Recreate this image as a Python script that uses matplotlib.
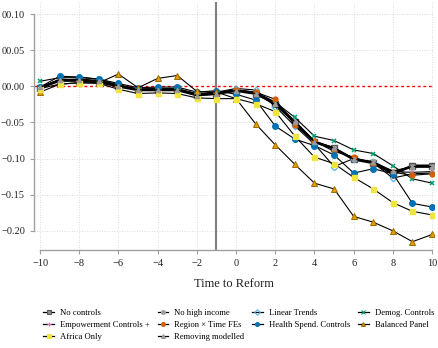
import matplotlib
matplotlib.use("Agg")
import matplotlib.pyplot as plt
from matplotlib.lines import Line2D

plt.rcParams['font.family'] = ['Liberation Serif', 'DejaVu Serif']

t = list(range(-10, 11))

no_controls  = [-0.002, 0.008, 0.008, 0.006, 0.000, -0.005, -0.005, -0.005, -0.012, -0.010, -0.006, -0.010, -0.024, -0.050, -0.077, -0.086, -0.101, -0.106, -0.121, -0.110, -0.110]
no_high_inc  = [-0.001, 0.009, 0.010, 0.008, 0.001, -0.004, -0.004, -0.004, -0.011, -0.009, -0.005, -0.009, -0.022, -0.048, -0.076, -0.085, -0.100, -0.104, -0.118, -0.112, -0.112]
linear_tr    = [-0.002, 0.010, 0.009, 0.007, 0.002, -0.004, -0.003, -0.003, -0.010, -0.008, -0.003, -0.005, -0.028, -0.055, -0.080, -0.111, -0.100, -0.106, -0.127, -0.121, -0.120]
demog        = [0.007, 0.012, 0.012, 0.010, 0.002, -0.004, -0.004, -0.004, -0.011, -0.009, -0.005, -0.008, -0.022, -0.043, -0.069, -0.075, -0.088, -0.093, -0.110, -0.128, -0.134]
empower      = [-0.002, 0.008, 0.009, 0.007, 0.001, -0.005, -0.005, -0.005, -0.012, -0.010, -0.006, -0.009, -0.026, -0.050, -0.076, -0.087, -0.100, -0.106, -0.118, -0.119, -0.118]
region_time  = [-0.002, 0.009, 0.009, 0.008, 0.001, -0.004, -0.004, -0.004, -0.011, -0.009, -0.005, -0.008, -0.018, -0.054, -0.076, -0.090, -0.098, -0.107, -0.119, -0.123, -0.121]
health_sp    = [-0.001, 0.014, 0.013, 0.010, 0.004, -0.002, -0.001, -0.001, -0.008, -0.006, -0.011, -0.019, -0.055, -0.073, -0.082, -0.095, -0.120, -0.114, -0.121, -0.162, -0.167]
balanced     = [-0.008, 0.003, 0.005, 0.005, 0.017, -0.002, 0.011, 0.015, -0.007, -0.008, -0.017, -0.052, -0.081, -0.108, -0.134, -0.142, -0.180, -0.188, -0.200, -0.215, -0.205]
africa       = [-0.003, 0.003, 0.005, 0.004, -0.004, -0.010, -0.009, -0.010, -0.016, -0.017, -0.017, -0.024, -0.035, -0.069, -0.098, -0.107, -0.126, -0.142, -0.161, -0.173, -0.178]
removing     = [-0.001, 0.009, 0.009, 0.007, 0.001, -0.005, -0.005, -0.005, -0.013, -0.011, -0.006, -0.010, -0.025, -0.049, -0.077, -0.085, -0.101, -0.105, -0.117, -0.111, -0.111]

y_ticks = [0.10, 0.05, 0.0, -0.05, -0.10, -0.15, -0.20]
y_tick_labels = ["00.10", "00.05", "00.00", "\u22120.05", "\u22120.10", "\u22120.15", "\u22120.20"]
x_ticks = list(range(-10, 11, 2))
x_tick_labels = [("\u2212" + str(-v)) if v < 0 else str(v) for v in x_ticks]

fig = plt.figure(figsize=(4.38, 3.48), dpi=100)
ax = fig.add_axes([0.0776, 0.2816, 0.9134, 0.7124])

ax.set_xlim(-10.31, 10.1)
ax.set_ylim(-0.2265, 0.1166)

for v in x_ticks:
    ax.axvline(v, color='#d0d0d0', lw=0.6, ls=(0, (1, 2)), zorder=0)
for v in y_ticks:
    ax.axhline(v, color='#d0d0d0', lw=0.6, ls=(0, (1, 2)), zorder=0)

ax.axhline(0, color='red', lw=1.0, ls=(0, (2, 2)), zorder=1)
ax.axvline(-1, color='#808080', lw=1.5, zorder=1)

series = [
    ("No controls", no_controls, dict(marker='s', mfc='#8c8c8c', mec='#555555', ms=4.0, lw=1.9)),
    ("No high income", no_high_inc, dict(marker='o', mfc='#a0a0a0', mec='#a0a0a0', ms=3.0, lw=0.8)),
    ("Linear Trends", linear_tr, dict(marker='D', mfc='none', mec='#56B4E9', ms=3.3, mew=0.9, lw=0.8)),
    ("Demog. Controls", demog, dict(marker='x', mfc='#009E73', mec='#009E73', ms=3.0, mew=1.1, lw=0.8)),
    ("Empowerment Controls +", empower, dict(marker='+', mfc='#CC79A7', mec='#CC79A7', ms=3.5, mew=1.1, lw=0.8)),
    ("Region \u00d7 Time FEs", region_time, dict(marker='o', mfc='#D55E00', mec='#D55E00', ms=3.5, lw=0.8)),
    ("Health Spend. Controls", health_sp, dict(marker='o', mfc='#0072B2', mec='#0072B2', ms=4.0, lw=0.8)),
    ("Balanced Panel", balanced, dict(marker='^', mfc='#E69F00', mec='#9a6a00', ms=4.0, mew=0.7, lw=0.8)),
    ("Africa Only", africa, dict(marker='s', mfc='#F0E442', mec='#F0E442', ms=3.6, lw=0.8)),
    ("Removing modelled", removing, dict(marker='^', mfc='#9a9a9a', mec='#9a9a9a', ms=3.0, lw=0.8)),
]

handles = {}
for name, vals, st in series:
    h, = ax.plot(t, vals, color='black', zorder=3, label=name, **st)
    handles[name] = h

ax.spines['top'].set_visible(False)
ax.spines['right'].set_visible(False)
for s in ('left', 'bottom'):
    ax.spines[s].set_color('#a0a0a0')
    ax.spines[s].set_linewidth(1.0)
ax.spines['left'].set_bounds(-0.20, 0.10)
ax.spines['bottom'].set_bounds(-10, 10)

ax.set_yticks(y_ticks)
ax.set_yticklabels(y_tick_labels)
ax.set_xticks(x_ticks)
ax.set_xticklabels(x_tick_labels)
ax.tick_params(axis='both', colors='#a0a0a0', labelcolor='#222222', labelsize=7.5, length=3, width=0.8)

ax.set_xlabel("Time to Reform", fontsize=9, color='#222222', labelpad=7)

order = ["No controls", "Empowerment Controls +", "Africa Only",
         "No high income", "Region \u00d7 Time FEs", "Removing modelled",
         "Linear Trends", "Health Spend. Controls",
         "Demog. Controls", "Balanced Panel"]
leg_handles = []
for name in order:
    h = handles[name]
    leg_handles.append(Line2D([], [], color='black', lw=0.9, marker=h.get_marker(),
                              mfc=h.get_markerfacecolor(), mec=h.get_markeredgecolor(),
                              ms=2.8, mew=0.8))
fig.legend(leg_handles, order, loc='center', bbox_to_anchor=(0.545, 0.066), ncol=4,
           frameon=False, fontsize=6.2, handlelength=1.2, handletextpad=0.7,
           columnspacing=0.95, labelspacing=0.5)

fig.savefig("out.png", dpi=100)
